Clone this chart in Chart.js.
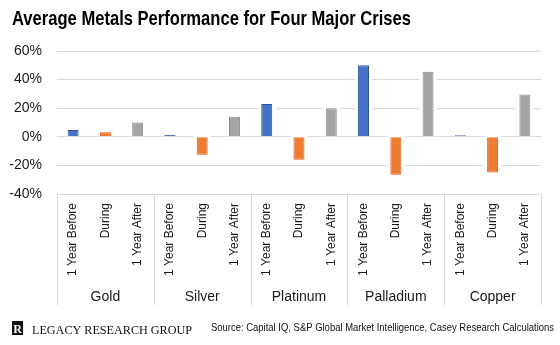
<!DOCTYPE html>
<html>
<head>
<meta charset="utf-8">
<script src="https://cdn.jsdelivr.net/npm/chart.js@4/dist/chart.umd.min.js"></script>
<style>
  html, body { margin: 0; padding: 0; background: #fff; }
  #wrap { position: relative; width: 560px; height: 345px; }
</style>
</head>
<body>
<div id="wrap"><canvas id="c" width="560" height="345"></canvas></div>
<script>
// Metals and the three periods around each crisis
const metals = ['Gold', 'Silver', 'Platinum', 'Palladium', 'Copper'];
const periods = ['1 Year Before', 'During', '1 Year After'];

// Average performance (%) per metal
const yearBefore = [4.8, 1.2, 23, 50, 1.0];
const during = [3.2, -12.5, -16, -26.5, -25];
const yearAfter = [10, 14, 20, 45.5, 29.5];

// Y axis tick values
const yTicks = [-40, -20, 0, 20, 40, 60];

const titleText = 'Average Metals Performance for Four Major Crises';
const brandText = 'LEGACY RESEARCH GROUP';
const sourceText = 'Source: Capital IQ, S&P Global Market Intelligence, Casey Research Calculations';

// Flat category list: every metal gets the three period labels
const labels = [];
metals.forEach(() => periods.forEach(p => labels.push(p)));

// Spread one series across the flat category list (only its own slot per metal)
function spread(values, slot) {
  const out = new Array(labels.length).fill(null);
  values.forEach((v, i) => { out[i * 3 + slot] = v; });
  return out;
}

const SANS = '"Liberation Sans", Arial, sans-serif';
const NARROW = '"Liberation Sans Narrow", "Liberation Sans", Arial, sans-serif';

// Text squeezed to a fixed width
function fitText(ctx, text, x, y, width) {
  const w = ctx.measureText(text).width;
  ctx.save();
  ctx.translate(x, y);
  ctx.scale(width / w, 1);
  ctx.fillText(text, 0, 0);
  ctx.restore();
}

// White halo behind each bar so gridlines stop short of it
const barHalo = {
  id: 'barHalo',
  beforeDatasetsDraw(chart) {
    const ctx = chart.ctx;
    ctx.save();
    ctx.fillStyle = '#ffffff';
    chart.data.datasets.forEach((ds, di) => {
      chart.getDatasetMeta(di).data.forEach((el, i) => {
        if (ds.data[i] === null) return;
        const top = Math.min(el.y, el.base), bot = Math.max(el.y, el.base);
        ctx.fillRect(el.x - el.width / 2 - 3, top - 2, el.width + 6, bot - top + 2);
      });
    });
    ctx.restore();
  }
};

// Metal group row, separators, title and footer
const decorations = {
  id: 'decorations',
  afterDraw(chart) {
    const ctx = chart.ctx;
    const x = chart.scales.x;
    const step = x.getPixelForValue(1) - x.getPixelForValue(0);
    const axisY = x.top;
    ctx.save();
    ctx.strokeStyle = '#d9d9d9';
    ctx.lineWidth = 1;
    for (let g = 0; g <= metals.length; g++) {
      const px = Math.round(x.getPixelForValue(g * 3) - step / 2) + 0.5;
      ctx.beginPath();
      ctx.moveTo(px, axisY);
      ctx.lineTo(px, axisY + 111);
      ctx.stroke();
    }
    ctx.fillStyle = '#1a1a1a';
    ctx.font = '14px ' + SANS;
    ctx.textAlign = 'center';
    ctx.textBaseline = 'middle';
    metals.forEach((m, g) => {
      ctx.fillText(m, x.getPixelForValue(g * 3 + 1), axisY + 103);
    });

    // title
    ctx.textAlign = 'left';
    ctx.textBaseline = 'alphabetic';
    ctx.fillStyle = '#000';
    ctx.font = 'bold 21px ' + NARROW;
    fitText(ctx, titleText, 12, 25, 399);

    // brand mark
    ctx.fillStyle = '#111';
    ctx.fillRect(12, 321, 11, 14);
    ctx.fillStyle = '#fff';
    ctx.font = 'bold 12px "Liberation Serif", "Times New Roman", serif';
    ctx.textAlign = 'center';
    ctx.fillText('R', 17.5, 333);
    ctx.textAlign = 'left';
    ctx.fillStyle = '#111';
    ctx.font = '12px "Liberation Serif", "Times New Roman", serif';
    fitText(ctx, brandText, 32, 334, 160);

    // source note
    ctx.fillStyle = '#111';
    ctx.font = '10.5px ' + NARROW;
    fitText(ctx, sourceText, 211, 331, 343);
    ctx.restore();
  }
};

new Chart(document.getElementById('c'), {
  type: 'bar',
  data: {
    labels: labels,
    datasets: [
      { label: periods[0], data: spread(yearBefore, 0), backgroundColor: '#4472c4', borderColor: '#2f5597', borderWidth: 1 },
      { label: periods[1], data: spread(during, 1), backgroundColor: '#ed7d31', borderColor: '#f0591c', borderWidth: 1 },
      { label: periods[2], data: spread(yearAfter, 2), backgroundColor: '#a5a5a5', borderColor: '#8a8a8a', borderWidth: 1 }
    ]
  },
  options: {
    responsive: false,
    animation: false,
    events: [],
    layout: { padding: { left: 0, right: 19, top: 51, bottom: 68 } },
    datasets: { bar: { grouped: false, categoryPercentage: 1, barPercentage: 0.34 } },
    plugins: { legend: { display: false }, tooltip: { enabled: false } },
    scales: {
      x: {
        grid: { display: false, drawTicks: false },
        border: { display: true, color: '#d9d9d9' },
        afterFit(scale) { scale.height = 83; },
        ticks: {
          autoSkip: false, minRotation: 90, maxRotation: 90, padding: 9,
          color: '#1a1a1a', font: { family: SANS, size: 12 }
        }
      },
      y: {
        min: yTicks[0], max: yTicks[yTicks.length - 1],
        afterBuildTicks(scale) { scale.ticks = yTicks.map(v => ({ value: v })); },
        afterFit(scale) { scale.width = 57; },
        grid: { color: '#d9d9d9', lineWidth: 1, drawTicks: false },
        border: { display: false },
        ticks: {
          padding: 15, color: '#1a1a1a',
          font: { family: SANS, size: 14 },
          callback: v => v + '%'
        }
      }
    }
  },
  plugins: [barHalo, decorations]
});
</script>
</body>
</html>
